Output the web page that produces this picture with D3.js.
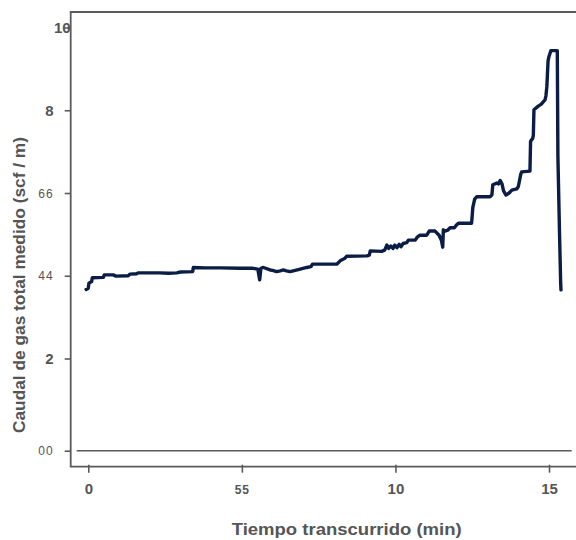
<!DOCTYPE html>
<html>
<head>
<meta charset="utf-8">
<script src="https://cdn.jsdelivr.net/npm/d3@7/dist/d3.min.js"></script>
<style>
  html, body { margin: 0; padding: 0; background: #fff; }
  svg { display: block; }
  text { font-family: "Liberation Sans", Arial, Helvetica, sans-serif; }
</style>
</head>
<body>
<svg id="chart" width="576" height="540"></svg>
<script>
// ---- data ----
const timeMin = [
  -0.07, 0.00, 0.02, 0.11, 0.13, 0.49, 0.52, 0.81, 0.90, 1.30, 1.36, 1.58, 1.62, 2.33,
  2.60, 2.88, 3.00, 3.40, 3.42, 3.80, 4.29, 4.94, 5.36, 5.52, 5.58, 5.62, 5.70, 5.92,
  6.00, 6.13, 6.25, 6.35, 6.45, 6.57, 6.84, 7.11, 7.25, 7.30, 8.09, 8.20, 8.35, 8.41,
  9.07, 9.15, 9.18, 9.55, 9.65, 9.72, 9.78, 9.85, 9.92, 9.98, 10.05, 10.12, 10.18,
  10.25, 10.37, 10.42, 10.64, 10.72, 10.80, 11.02, 11.10, 11.29, 11.42, 11.50, 11.54,
  11.56, 11.62, 11.70, 11.78, 11.92, 11.98, 12.05, 12.48, 12.52, 12.58, 12.65, 13.08,
  13.14, 13.17, 13.30, 13.36, 13.41, 13.47, 13.52, 13.60, 13.70, 13.79, 13.95, 14.00,
  14.08, 14.11, 14.38, 14.40, 14.47, 14.49, 14.51, 14.65, 14.75, 14.82, 14.87, 14.90,
  14.93, 14.97, 15.00, 15.06, 15.27, 15.29, 15.34, 15.38, 15.39
];
const gasFlow = [
  3.67, 3.70, 3.82, 3.86, 3.95, 3.96, 4.02, 4.02, 3.99, 4.00, 4.04, 4.05, 4.07, 4.07,
  4.06, 4.07, 4.09, 4.10, 4.20, 4.19, 4.19, 4.18, 4.18, 4.16, 3.90, 4.18, 4.20, 4.14,
  4.13, 4.10, 4.12, 4.14, 4.12, 4.10, 4.15, 4.20, 4.22, 4.28, 4.28, 4.36, 4.42, 4.47,
  4.48, 4.50, 4.60, 4.59, 4.62, 4.74, 4.66, 4.72, 4.66, 4.74, 4.68, 4.76, 4.70,
  4.78, 4.80, 4.86, 4.86, 4.94, 4.98, 4.98, 5.08, 5.08, 4.98, 4.85, 4.69,
  5.11, 5.08, 5.10, 5.16, 5.16, 5.22, 5.27, 5.27, 5.65, 5.85, 5.91, 5.91,
  5.95, 6.20, 6.24, 6.22, 6.30, 6.22, 6.05, 5.95, 6.00, 6.07, 6.10, 6.15,
  6.45, 6.51, 6.53, 7.25, 7.32, 7.40, 8.01, 8.10, 8.15, 8.21, 8.25, 8.35,
  8.57, 9.20, 9.30, 9.44, 9.44, 6.88, 5.11, 3.82, 3.66
];
const yTickValues = [0, 2, 4, 6, 8, 10];
const yTickLabels = ["00", "2", "44", "66", "8", "10"];
const xTickValues = [0, 5, 10, 15];
const xTickLabels = ["0", "55", "10", "15"];
const xTitle = "Tiempo transcurrido (min)";
const yTitle = "Caudal de gas total medido (scf / m)";

// ---- layout ----
const svg = d3.select("#chart");
const axisColor = "#5a5a5a";
const textColor = "#555555";
const frameLeft = 70.7, frameTop = 12, frameBottom = 466.7, frameRight = 576;

const x = d3.scaleLinear().domain([0, 15]).range([88.3, 549]);
const y = d3.scaleLinear().domain([0, 2, 10]).range([450.7, 358.5, 27.5]);

// zero reference line
svg.append("line")
  .attr("x1", 76.7).attr("x2", 571.7)
  .attr("y1", y(0)).attr("y2", y(0))
  .attr("stroke", axisColor).attr("stroke-width", 1.6);

// data line
const line = d3.line().x((d, i) => x(timeMin[i])).y((d, i) => y(gasFlow[i]));
svg.append("path")
  .datum(gasFlow)
  .attr("d", line)
  .attr("fill", "none")
  .attr("stroke", "#0b1d45")
  .attr("stroke-width", 3.4)
  .attr("stroke-linejoin", "round")
  .attr("stroke-linecap", "round");

const bigLabels = new Set(["2", "8", "10", "0", "15"]);

// y axis
const yAxis = d3.axisLeft(y).tickValues(yTickValues).tickSize(6).tickPadding(18)
  .tickFormat((d, i) => yTickLabels[i]);
const gy = svg.append("g").attr("transform", `translate(${frameLeft},0)`).call(yAxis);
gy.select(".domain").remove();
gy.selectAll(".tick line").attr("stroke", axisColor).attr("stroke-width", 1.6);
gy.selectAll(".tick text")
  .attr("fill", textColor)
  .attr("font-size", (d, i) => bigLabels.has(yTickLabels[i]) ? 15 : 12)
  .attr("font-weight", (d, i) => bigLabels.has(yTickLabels[i]) ? "bold" : "normal")
  .attr("letter-spacing", (d, i) => bigLabels.has(yTickLabels[i]) ? 0 : 1)
  .attr("x", (d, i) => i === yTickValues.length - 1 ? 0 : -17)
  .attr("dy", "0.35em");

// x axis
const xAxis = d3.axisBottom(x).tickValues(xTickValues).tickSize(8).tickPadding(10)
  .tickFormat((d, i) => xTickLabels[i]);
const gx = svg.append("g").attr("transform", `translate(0,${frameBottom - 2})`).call(xAxis);
gx.select(".domain").remove();
gx.selectAll(".tick line").attr("stroke", axisColor).attr("stroke-width", 1.6);
gx.selectAll(".tick text")
  .attr("fill", textColor)
  .attr("font-size", (d, i) => xTickLabels[i] === "55" ? 12 : 15)
  .attr("font-weight", "bold")
  .attr("letter-spacing", (d, i) => xTickLabels[i] === "55" ? 1 : 0)
  .attr("y", 29)
  .attr("dy", 0);

// frame (left, top, bottom)
svg.append("path")
  .attr("d", `M${frameRight},${frameTop}H${frameLeft}V${frameBottom}H${frameRight}`)
  .attr("fill", "none")
  .attr("stroke", axisColor)
  .attr("stroke-width", 1.8);

// titles
svg.append("text")
  .attr("x", 346.7).attr("y", 535)
  .attr("text-anchor", "middle")
  .attr("font-size", 17).attr("font-weight", "bold")
  .attr("fill", textColor)
  .attr("textLength", 230).attr("lengthAdjust", "spacingAndGlyphs")
  .text(xTitle);

svg.append("text")
  .attr("transform", "translate(25,285) rotate(-90)")
  .attr("text-anchor", "middle")
  .attr("font-size", 16.5).attr("font-weight", "bold")
  .attr("fill", textColor)
  .attr("textLength", 296).attr("lengthAdjust", "spacingAndGlyphs")
  .text(yTitle);
</script>
</body>
</html>
